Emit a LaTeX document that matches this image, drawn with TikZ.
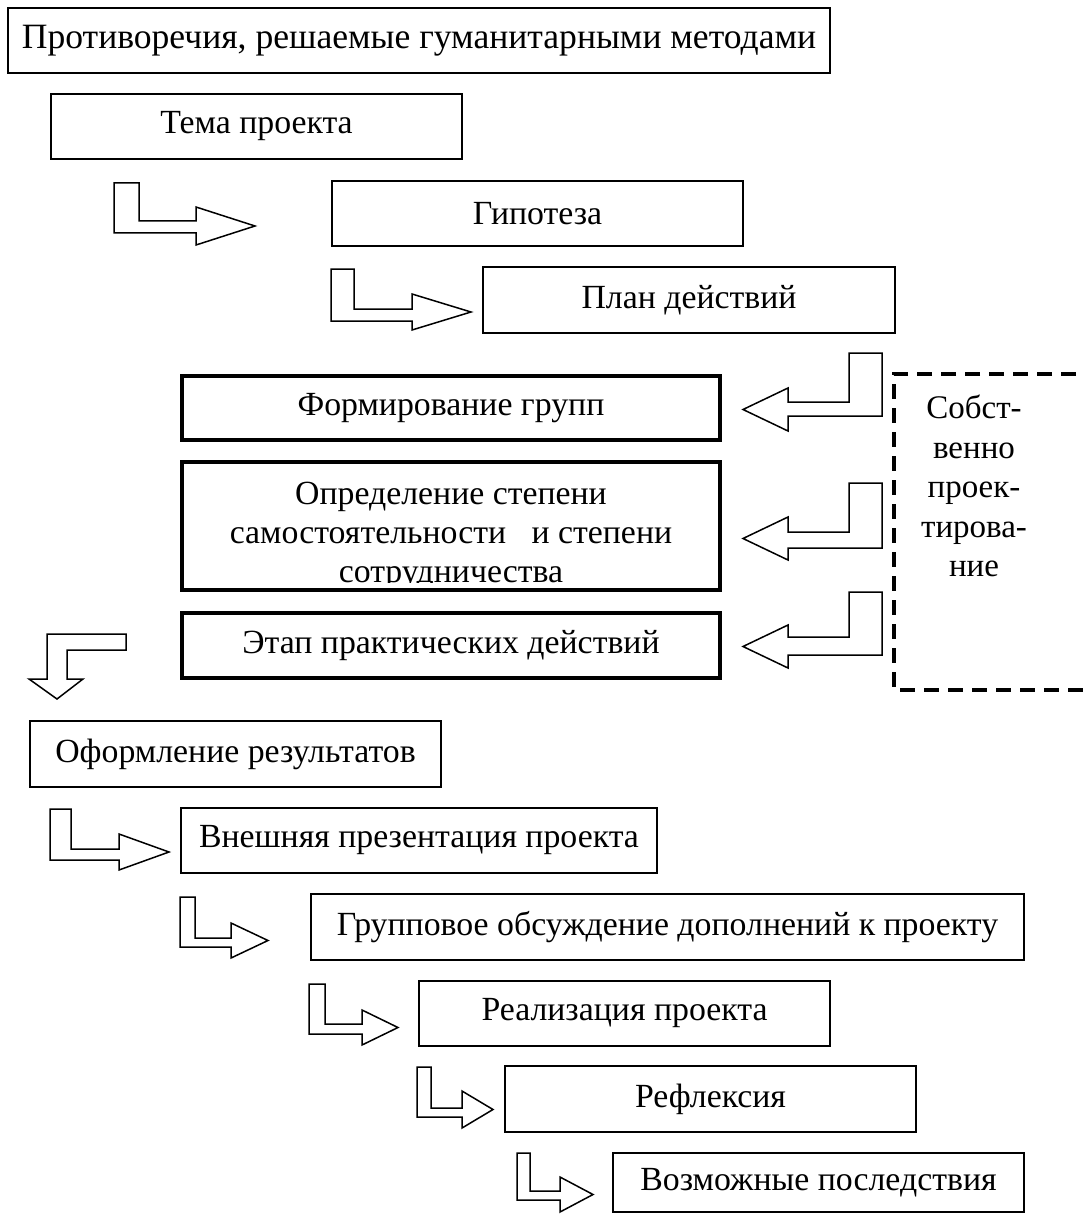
\documentclass[tikz,border=0pt]{standalone}
\usepackage{fontspec}
\setmainfont{Liberation Serif}
\newcommand\rarr[9]{\draw[blockarrow] (#1,#5) -- (#2,#5) -- (#2,#6) -- (#3,#6) -- (#3,#8) -- (#4,{(#8+#9)/2}) -- (#3,#9) -- (#3,#7) -- (#1,#7) -- cycle;}
\newcommand\larr[9]{\draw[blockarrow] (#1,#5) -- (#2,#5) -- (#2,#7) -- (#3,#7) -- (#3,#9) -- (#4,{(#8+#9)/2}) -- (#3,#8) -- (#3,#6) -- (#1,#6) -- cycle;}
\begin{document}
\begin{tikzpicture}[x=0.5pt,y=-0.5pt,
  box/.style={draw,line width=0.9pt,inner sep=0pt,outer sep=0pt,align=center,font=\fontsize{16.9}{19.5}\selectfont},
  thickbox/.style={box,line width=2pt},
  blockarrow/.style={draw,line width=0.75pt,line join=miter,fill=white},
  dashbox/.style={draw,line width=2pt,dash pattern=on 7.5pt off 4.5pt},
  label/.style={inner sep=0pt,align=center,font=\fontsize{16.9}{19.5}\selectfont}]
\useasboundingbox (0,0) rectangle (1084,1214);
% boxes
\node[box,minimum width=411pt,minimum height=32.5pt,font=\fontsize{17.8}{20}\selectfont] (b1) at (419,40.5) {Противоречия, решаемые гуманитарными методами};
\node[box,minimum width=205.5pt,minimum height=32.5pt] (b2) at (256.5,126.5) {Тема проекта};
\node[box,minimum width=205.5pt,minimum height=32.5pt] (b3) at (537.5,213.5) {Гипотеза};
\node[box,minimum width=206pt,minimum height=33pt] (b4) at (689,300) {План действий};
\node[thickbox,minimum width=269pt,minimum height=32pt] (b5) at (451,408) {Формирование групп};
\node[thickbox,minimum width=269pt,minimum height=64pt] (b6) at (451,526) {};
\begin{scope}
\clip (184,464) rectangle (718,582);
\node[label] (t6) at (451,536) {Определение степени\\самостоятельности \ \ и степени\\сотрудничества};
\end{scope}
\node[thickbox,minimum width=269pt,minimum height=32.5pt] (b7) at (451,645.5) {Этап практических действий};
\node[box,minimum width=205.5pt,minimum height=33pt] (b8) at (235.5,754) {Оформление результатов};
\node[box,minimum width=238pt,minimum height=32.5pt] (b9) at (419,840.5) {Внешняя презентация проекта};
\node[box,minimum width=356.5pt,minimum height=33pt] (b10) at (667.5,927) {Групповое обсуждение дополнений к проекту};
\node[box,minimum width=205.5pt,minimum height=32.5pt] (b11) at (624.5,1013.5) {Реализация проекта};
\node[box,minimum width=205.5pt,minimum height=33pt] (b12) at (710.5,1099) {Рефлексия};
\node[box,minimum width=205.5pt,minimum height=29.5pt] (b13) at (818.5,1182.5) {Возможные последствия};
% dashed frame
\draw[dashbox] (1100,374) -- (894,374) -- (894,690) -- (1100,690);
\node[label,font=\fontsize{16.5}{19.8}\selectfont] (tp) at (974,486) {Собст-\\венно\\проек-\\тирова-\\ние};
% block arrows pointing right
\rarr{114}{139}{196}{255}{183}{221}{233}{207}{245}
\rarr{331}{354}{412}{471}{269}{309}{321}{294}{330}
\rarr{50}{71}{119}{169}{809}{849}{860}{834}{870}
\rarr{180}{195}{231}{268}{897}{938}{947}{923}{958}
\rarr{309}{325}{362}{398}{984}{1024}{1034}{1010}{1045}
\rarr{417}{431}{462}{493}{1067}{1108}{1117}{1091}{1128}
\rarr{517}{530}{560}{593}{1153}{1191}{1200}{1177}{1212}
% block arrows pointing left
\larr{849}{882}{788}{743}{353}{402}{416}{388}{431}
\larr{849}{882}{788}{743}{483}{532}{548}{517}{560}
\larr{849}{882}{788}{743}{592}{637}{655}{625}{668}
% block arrow pointing down
\draw[blockarrow] (126,634) -- (47,634) -- (47,679) -- (29,679) -- (57,699) -- (83,679) -- (67,679) -- (67,650) -- (126,650) -- cycle;
\end{tikzpicture}
\end{document}
